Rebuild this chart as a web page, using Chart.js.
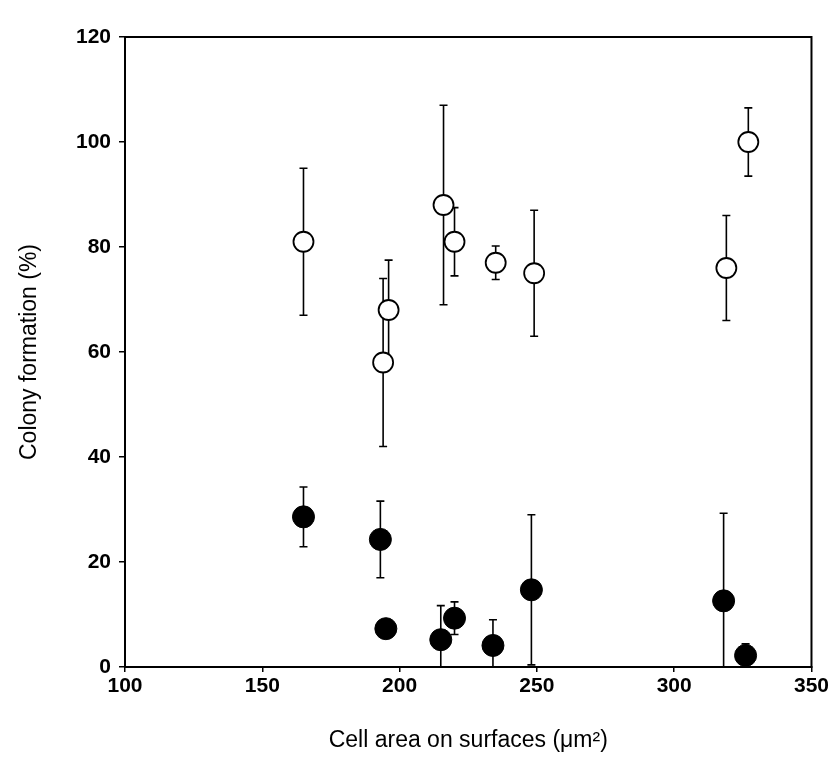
<!DOCTYPE html>
<html>
<head>
<meta charset="utf-8">
<title>Colony formation vs cell area</title>
<script src="https://cdn.jsdelivr.net/npm/chart.js@4/dist/chart.umd.min.js"></script>
<style>
    body { margin: 0; background: #fff; }
    #grafico { display: block; }
</style>
</head>
<body>
<canvas id="grafico" width="831" height="783"></canvas>
<script>
// open circles
const areaAbiertos = [165, 196, 194, 216, 220, 235, 249, 319, 327];
const colonyAbiertos = [81, 68, 58, 88, 81, 77, 75, 76, 100];
const errAbiertos = [14, 9.5, 16, 19, 6.5, 3.2, 12, 10, 6.5];

// filled circles
const areaLlenos = [165, 193, 195, 215, 220, 234, 248, 318, 326];
const colonyLlenos = [28.6, 24.3, 7.3, 5.2, 9.3, 4.1, 14.7, 12.6, 2.2];
const errLlenos = [5.7, 7.3, 0, 6.5, 3.1, 4.9, 14.3, 16.7, 2.2];

const xTicks = [100, 150, 200, 250, 300, 350];
const yTicks = [0, 20, 40, 60, 80, 100, 120];

const fuente = "'Liberation Sans', Arial, Helvetica, sans-serif";

function puntos(xs, ys) {
    return xs.map((x, i) => ({ x, y: ys[i] }));
}

// error bars + frame
const barrasError = {
    id: 'barrasError',
    beforeDatasetsDraw(chart) {
        const { ctx, chartArea, scales } = chart;
        ctx.save();
        ctx.strokeStyle = '#000';
        ctx.lineWidth = 1.6;
        chart.data.datasets.forEach(ds => {
            ds.data.forEach((p, i) => {
                const e = ds.errores[i];
                if (!e) return;
                const px = scales.x.getPixelForValue(p.x);
                let yTop = scales.y.getPixelForValue(p.y + e);
                let yBot = scales.y.getPixelForValue(p.y - e);
                const capTop = yTop >= chartArea.top;
                const capBot = yBot <= chartArea.bottom;
                yTop = Math.max(yTop, chartArea.top);
                yBot = Math.min(yBot, chartArea.bottom);
                ctx.beginPath();
                ctx.moveTo(px, yTop);
                ctx.lineTo(px, yBot);
                if (capTop) { ctx.moveTo(px - 4, yTop); ctx.lineTo(px + 4, yTop); }
                if (capBot) { ctx.moveTo(px - 4, yBot); ctx.lineTo(px + 4, yBot); }
                ctx.stroke();
            });
        });
        ctx.restore();
    },
    afterDraw(chart) {
        const { ctx, chartArea } = chart;
        ctx.save();
        ctx.strokeStyle = '#000';
        ctx.lineWidth = 2;
        ctx.strokeRect(chartArea.left, chartArea.top, chartArea.right - chartArea.left, chartArea.bottom - chartArea.top);
        ctx.restore();
    }
};

new Chart(document.getElementById('grafico'), {
    type: 'scatter',
    data: {
        datasets: [{
            label: 'open',
            data: puntos(areaAbiertos, colonyAbiertos),
            errores: errAbiertos,
            pointRadius: 10,
            pointBackgroundColor: '#fff',
            pointBorderColor: '#000',
            pointBorderWidth: 1.8,
            clip: false
        }, {
            label: 'filled',
            data: puntos(areaLlenos, colonyLlenos),
            errores: errLlenos,
            pointRadius: 11,
            pointBackgroundColor: '#000',
            pointBorderColor: '#000',
            pointBorderWidth: 1,
            clip: false
        }]
    },
    options: {
        responsive: false,
        animation: false,
        layout: { padding: { left: 0, right: 13, top: 37, bottom: 29 } },
        plugins: {
            legend: { display: false },
            tooltip: { enabled: false }
        },
        scales: {
            x: {
                type: 'linear',
                min: 100,
                max: 350,
                afterBuildTicks: s => { s.ticks = xTicks.map(v => ({ value: v })); },
                afterFit: s => { s.height = 87; },
                grid: { display: true, drawOnChartArea: false, drawTicks: true, tickLength: 5, color: '#000', lineWidth: 1.5 },
                border: { display: true, color: '#000', width: 2 },
                ticks: { color: '#000', padding: 2, font: { family: fuente, size: 21, weight: 'bold' } },
                title: {
                    display: true,
                    text: 'Cell area on surfaces (μm²)',
                    color: '#000',
                    padding: { top: 0, bottom: 0 },
                    font: { family: fuente, size: 23 }
                }
            },
            y: {
                type: 'linear',
                min: 0,
                max: 120,
                afterBuildTicks: s => { s.ticks = yTicks.map(v => ({ value: v })); },
                afterFit: s => { s.width = 125; },
                grid: { display: true, drawOnChartArea: false, drawTicks: true, tickLength: 6, color: '#000', lineWidth: 1.5 },
                border: { display: true, color: '#000', width: 2 },
                ticks: { color: '#000', padding: 8, font: { family: fuente, size: 21, weight: 'bold' } },
                title: {
                    display: true,
                    text: 'Colony formation (%)',
                    color: '#000',
                    padding: { top: 16, bottom: 0 },
                    font: { family: fuente, size: 23 }
                }
            }
        }
    },
    plugins: [barrasError]
});
</script>
</body>
</html>
